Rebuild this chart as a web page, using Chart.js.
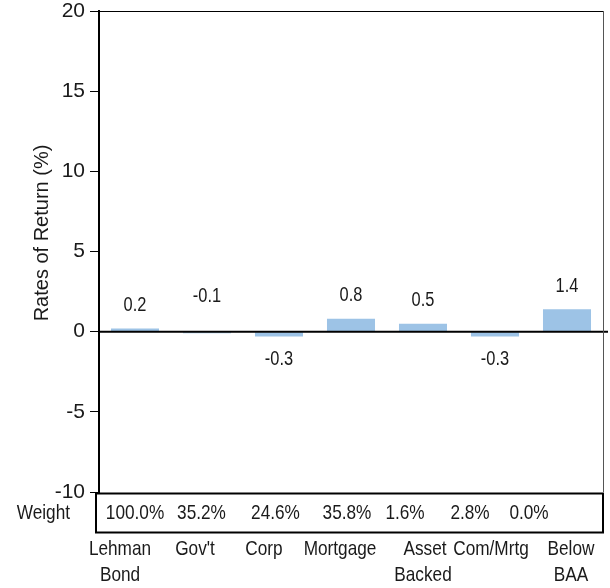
<!DOCTYPE html>
<html>
<head>
<meta charset="utf-8">
<script src="https://cdn.jsdelivr.net/npm/chart.js@4/dist/chart.umd.min.js"></script>
<style>
  html, body { margin: 0; padding: 0; background: #fff; }
  #c { display: block; }
</style>
</head>
<body>
<canvas id="c" width="610" height="588"></canvas>
<script>
// Sector returns of the bond index, with portfolio weights listed underneath
const categories = [['Lehman', 'Bond'], ["Gov't"], ['Corp'], ['Mortgage'], ['Asset', 'Backed'], ['Com/Mrtg'], ['Below', 'BAA']];
const returns = [0.2, -0.1, -0.3, 0.8, 0.5, -0.3, 1.4];
const weights = ['100.0%', '35.2%', '24.6%', '35.8%', '1.6%', '2.8%', '0.0%'];
const yTicks = [20, 15, 10, 5, 0, -5, -10];

const REGULAR = "'Liberation Sans', Arial, sans-serif";
const TEXT = '#1a1a1a';

// Condensed text: regular face squeezed horizontally
function narrowText(ctx, text, x, y, size, align) {
  ctx.save();
  ctx.translate(x, y);
  ctx.scale(0.82, 1);
  ctx.font = size + 'px ' + REGULAR;
  ctx.fillStyle = TEXT;
  ctx.textAlign = align || 'center';
  ctx.textBaseline = 'middle';
  ctx.fillText(text, 0, 0);
  ctx.restore();
}

// Frame, zero line, value labels, weight row, category labels and axis title
const decorations = {
  id: 'decorations',
  afterDatasetsDraw(chart) {
    const { ctx, chartArea: a, scales: { x, y } } = chart;
    const y0 = y.getPixelForValue(0);
    ctx.save();
    // zero line
    ctx.strokeStyle = '#000';
    ctx.lineWidth = 2;
    ctx.beginPath();
    ctx.moveTo(a.left, y0);
    ctx.lineTo(a.right + 5, y0);
    ctx.stroke();
    // top and right frame
    ctx.lineWidth = 1;
    ctx.strokeStyle = '#000';
    ctx.beginPath();
    ctx.moveTo(a.left, Math.round(a.top) + 0.5);
    ctx.lineTo(a.right, Math.round(a.top) + 0.5);
    ctx.stroke();
    ctx.strokeStyle = '#555';
    ctx.beginPath();
    ctx.moveTo(Math.round(a.right) + 0.5, a.top);
    ctx.lineTo(Math.round(a.right) + 0.5, a.bottom);
    ctx.stroke();
    ctx.restore();

    // value labels
    const meta = chart.getDatasetMeta(0);
    meta.data.forEach((bar, i) => {
      const v = returns[i];
      let ty;
      if (v < -0.2) ty = bar.y + 23;
      else ty = Math.min(bar.y, y0) - 23 - (v < 0 ? 12 : 0);
      narrowText(ctx, v.toFixed(1), bar.x, ty, 20);
    });
  },
  afterDraw(chart) {
    const { ctx, chartArea: a, scales: { x } } = chart;
    // weight box
    const boxTop = a.bottom + 1.5;
    const boxH = 39;
    ctx.save();
    ctx.strokeStyle = '#000';
    ctx.lineWidth = 2;
    ctx.strokeRect(a.left - 3, boxTop, a.right - a.left + 3, boxH);
    ctx.restore();
    narrowText(ctx, 'Weight', 70, boxTop + boxH / 2, 21, 'right');
    const shift = [0, -5.5, -3.5, -4, -18, -25, -38];
    weights.forEach((w, i) => {
      narrowText(ctx, w, x.getPixelForValue(i) + shift[i], boxTop + boxH / 2, 21);
    });

    // category labels under the weight row
    const labelShift = [[-15, -15], [-12], [-15], [-11], [2, 0], [-4], [4, 4]];
    categories.forEach((lines, i) => {
      lines.forEach((line, j) => {
        narrowText(ctx, line, x.getPixelForValue(i) + labelShift[i][j], a.bottom + 57 + j * 26, 21);
      });
    });

    // axis title
    ctx.save();
    ctx.translate(42, 233);
    ctx.rotate(-Math.PI / 2);
    ctx.font = '20px ' + REGULAR;
    ctx.fillStyle = TEXT;
    ctx.textAlign = 'center';
    ctx.textBaseline = 'middle';
    ctx.fillText('Rates of Return (%)', 0, 0);
    ctx.restore();
  }
};

new Chart(document.getElementById('c'), {
  type: 'bar',
  data: {
    labels: categories,
    datasets: [{
      data: returns,
      backgroundColor: '#9dc3e6',
      borderWidth: 0,
      barPercentage: 0.667,
      categoryPercentage: 1
    }]
  },
  options: {
    responsive: false,
    animation: false,
    layout: { padding: { top: 11, right: 7, left: 0, bottom: 0 } },
    plugins: { legend: { display: false }, tooltip: { enabled: false } },
    scales: {
      x: {
        grid: { display: false, drawTicks: false },
        border: { display: false },
        ticks: { display: false },
        afterFit(s) { s.height = 96; s.paddingLeft = 0; s.paddingRight = 0; }
      },
      y: {
        min: -10,
        max: 20,
        afterBuildTicks(s) { s.ticks = yTicks.map(v => ({ value: v })); },
        ticks: {
          color: TEXT,
          font: { family: REGULAR, size: 21 },
          padding: 5
        },
        grid: { drawOnChartArea: false, tickLength: 9, color: '#000', tickWidth: 1 },
        border: { color: '#000', width: 2 },
        afterFit(s) { s.width = 99; s.paddingTop = 0; s.paddingBottom = 0; }
      }
    }
  },
  plugins: [decorations]
});
</script>
</body>
</html>
